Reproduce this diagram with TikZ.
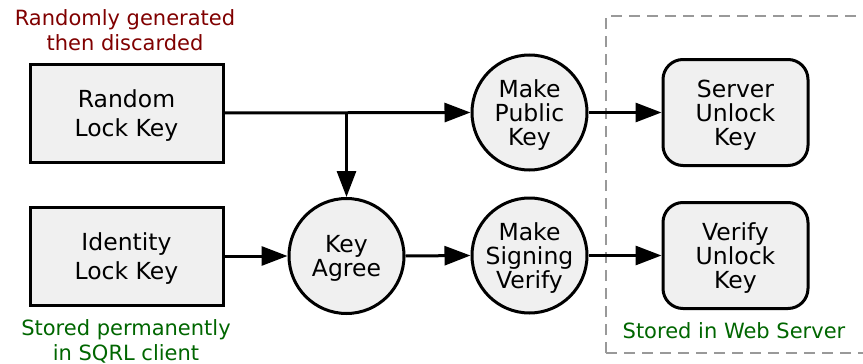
\documentclass[tikz,border=0pt]{standalone}
\usepackage{fontspec}
\setmainfont{DejaVu Sans}
\usetikzlibrary{arrows.meta}
\definecolor{boxfill}{HTML}{F0F0F0}
\definecolor{redlab}{HTML}{800000}
\definecolor{greenlab}{HTML}{006600}
\definecolor{dashgray}{HTML}{999999}
\tikzset{
  keybox/.style={draw=black, line width=3pt, fill=boxfill, rectangle, minimum width=193pt, minimum height=98pt, align=center, inner sep=0pt, text depth=0pt},
  keyround/.style={draw=black, line width=3pt, fill=boxfill, rectangle, rounded corners=20pt, minimum width=145pt, minimum height=106pt, align=center, inner sep=0pt, text depth=0pt},
  keycirc/.style={draw=black, line width=3pt, fill=boxfill, circle, minimum size=115pt, align=center, inner sep=0pt, text depth=0pt},
  twoline/.style={font=\fontsize{23.5pt}{29pt}\selectfont},
  threeline/.style={font=\fontsize{23.5pt}{24pt}\selectfont},
  note/.style={font=\fontsize{21pt}{25pt}\selectfont, align=center, inner sep=0pt},
  flow/.style={line width=3pt, -{Triangle[length=26pt,width=19pt]}},
}
\begin{document}
\begin{tikzpicture}[x=1pt,y=-1pt]
\useasboundingbox (0,0) rectangle (863,364);
\begin{scope}
\clip (0,0) rectangle (863,364);
\draw[dashgray, line width=2pt, dash pattern=on 11pt off 7pt] (606,353) -- (606,16) -- (880,16);
\draw[dashgray, line width=2pt, dash pattern=on 11pt off 7pt] (606,353) -- (880,353);
\end{scope}
\node[keybox, twoline] (rlk) at (126.5,113) {Random\\Lock Key};
\node[keybox, twoline] (ilk) at (126.5,256) {Identity\\Lock Key};
\node[keycirc, threeline] (ka) at (346.5,256) {Key\\Agree};
\node[keycirc, threeline] (mpk) at (529.5,112.5) {Make\\Public\\Key};
\node[keycirc, threeline] (msv) at (529.5,255.5) {Make\\Signing\\Verify};
\node[keyround, threeline] (suk) at (735.5,112.5) {Server\\Unlock\\Key};
\node[keyround, threeline] (vuk) at (735.5,255.5) {Verify\\Unlock\\Key};
\coordinate (junc) at (ka.center |- rlk.east);
\draw[flow] (rlk.east) -- (mpk.west);
\draw[flow] (junc) -- (ka.north);
\draw[flow] (ilk.east) -- (ka.west);
\draw[flow] (ka.east) -- (msv.west);
\draw[flow] (mpk.east) -- (suk.west);
\draw[flow] (msv.east) -- (vuk.west);
\node[note, text=redlab, anchor=base] (rnote) at (125,50) {Randomly generated\\then discarded};
\node[note, text=greenlab, anchor=base] (snote) at (126,360) {Stored permanently\\in SQRL client};
\node[note, text=greenlab, anchor=base] (wnote) at (734,338) {Stored in Web Server};
\end{tikzpicture}
\end{document}
